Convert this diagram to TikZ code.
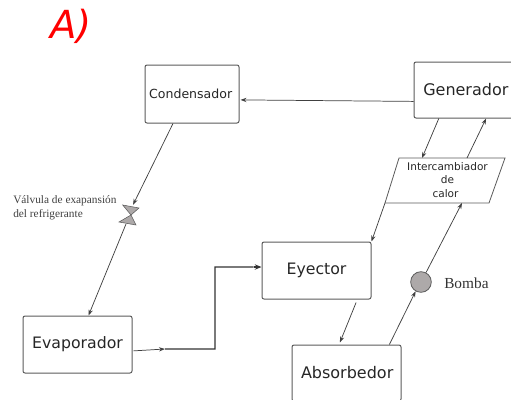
\documentclass[tikz,border=0pt]{standalone}
\usepackage{fontspec}
\setmainfont{DejaVu Sans}
\newfontfamily\serifl{Liberation Serif}
\usetikzlibrary{calc,arrows.meta}
\definecolor{linec}{HTML}{404040}
\definecolor{boxc}{HTML}{5A5A5A}
\definecolor{fillg}{HTML}{ADA9A9}
\tikzset{
  x=0.75pt,y=-0.75pt,
  box/.style={draw=boxc,line width=0.75pt,rounded corners=1.5pt,minimum height=43.5pt,inner sep=0pt,text=black!85,font=\fontsize{11.8}{14}\selectfont},
  conn/.style={draw=linec,line width=0.55pt,-{Stealth[length=4.5pt,width=3.2pt]}},
  plain/.style={draw=linec,line width=0.55pt},
  heavy/.style={draw=black!80,line width=0.9pt},
  vlabel/.style={font=\serifl\fontsize{8.5}{10.5}\selectfont,text=black!75,align=left,inner sep=0pt},
}
\begin{document}
\begin{tikzpicture}
\useasboundingbox (0,0) rectangle (511,400);
\clip (0,0) rectangle (511,400);
\node[anchor=center,text=red,font=\fontsize{29}{32}\selectfont\itshape,inner sep=0pt] (title) at (71,26) {A)};
\node[box,minimum width=70.5pt,font=\fontsize{9.4}{11}\selectfont] (cond) at (192,94) {\hspace*{-2pt}Condensador};
\node[box,minimum width=81.75pt,minimum height=42pt,font=\fontsize{12}{14}\selectfont] (gen) at (468.5,90) {\hspace*{-4pt}Generador};
\node[box,minimum width=81.75pt,minimum height=42.75pt] (evap) at (77.5,344.5) {Evaporador};
\node[box,minimum width=81.75pt,minimum height=42.75pt] (eye) at (316.5,270.5) {Eyector};
\node[box,minimum width=81.75pt,minimum height=42pt,font=\fontsize{12}{14}\selectfont] (abs) at (346.5,373) {\hspace*{1pt}Absorbedor};
\coordinate (ihelp) at (447.5,180);
\path[draw=boxc,line width=0.6pt] (399,158) coordinate (itl) -- (505,158) coordinate (itr) -- (489,203) coordinate (ibr) -- (385,203) coordinate (ibl) -- cycle;
\node[align=center,inner sep=0pt,text=black!85,font=\fontsize{7.9}{10}\selectfont] (inter) at (ihelp) {Intercambiador\\de\hspace*{7pt}\\calor\hspace*{3pt}};
\node[circle,draw=boxc,fill=fillg,line width=0.6pt,minimum size=15.5pt,inner sep=0pt] (pump) at (421,282) {};
\node[anchor=west,inner sep=0pt,text=black!80,font=\serifl\fontsize{11.5}{13}\selectfont] (pumplabel) at (444,283) {Bomba};
\node[circle,minimum size=17.5pt,inner sep=0pt] (valve) at (129,216) {};
\path[draw=boxc,fill=fillg,line width=0.4pt] (122.7,205) -- (139,208) -- (131,215) -- cycle;
\path[draw=boxc,fill=fillg,line width=0.4pt] (131,215) -- (119,222) -- (136,225) -- cycle;
\node[vlabel,anchor=north west] (vtext) at (13,195.5) {Válvula de exapansión\\del refrigerante};
% connectors
\path[conn] ($(gen.south west)!.3!(gen.north west)$) -- ($(cond.south east)!.4!(cond.north east)+(1,0)$);
\path[conn] ($(cond.south west)!.3!(cond.south east)$) -- (valve.70);
\path[conn] ($(valve.250)+(1,-3)$) -- ($(evap.north west)!.6!(evap.north east)$);
\coordinate (mid1) at (165,349);
\path[heavy] (mid1) -- (215,349) -- (215,267) -- ($(eye.south west)!.56!(eye.north west)+(-8,0)$);
\path[conn] ($(evap.south east)!.39!(evap.north east)+(1,0)$) -- (mid1);
\path[heavy,-{Stealth[length=5pt,width=4pt]}] ($(eye.south west)!.56!(eye.north west)+(-8,0)$) -- ($(eye.south west)!.56!(eye.north west)$);
\path[conn] ($(gen.south west)!.23!(gen.south east)$) -- (itl -| 422,158);
\path[conn] (itl -| 467,158) -- ($(gen.south west)!.66!(gen.south east)$);
\path[conn] (ibl) -- (eye.north east);
\path[conn] ($(eye.south west)!.86!(eye.south east)+(0,3)$) -- ($(abs.north west)!.44!(abs.north east)+(0,-2)$);
\path[conn] ($(abs.north west)!.89!(abs.north east)$) -- (pump.240);
\path[plain,-{Stealth[length=4.5pt,width=3.2pt]}] (pump.62) -- (ibl -| 462,203);
\end{tikzpicture}
\end{document}
